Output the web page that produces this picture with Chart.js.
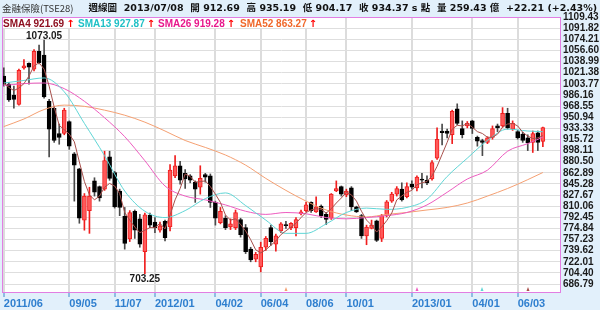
<!DOCTYPE html>
<html>
<head>
<meta charset="utf-8">
<script src="https://cdn.jsdelivr.net/npm/chart.js@4.4.0/dist/chart.umd.min.js"></script>
<style>
  html, body { margin: 0; padding: 0; background: #e2f0fb; }
  #wrap { width: 600px; height: 310px; }
</style>
</head>
<body>
<div id="wrap"><canvas id="chart" width="600" height="310"></canvas></div>
<script>
const BG = "#e2f0fb";
const UP = "#ff5a5a";
const UP_EDGE = "#f01e1e";
const DOWN = "#000000";

// weekly candles, one per week from 2011/06/06 to 2013/07/08
const opens = [1016, 1003, 986, 971, 1029, 1036, 1027, 1055, 1049, 976,
  965, 925, 925, 944, 893, 869, 788, 803, 850, 841,
  837, 888, 863, 834, 794, 758, 802, 790, 738, 796,
  785, 772, 786, 777, 858, 874, 862, 858, 848, 840,
  860, 858, 816, 784, 791, 777, 776, 789, 776, 742,
  726, 714, 745, 776, 750, 771, 781, 776, 776, 798,
  803, 816, 801, 810, 797, 791, 834, 841, 828, 839,
  809, 795, 763, 775, 787, 759, 795, 818, 829, 837,
  825, 845, 839, 853, 851, 853, 886, 929, 929, 923,
  964, 933, 937, 945, 919, 914, 911, 919, 937, 937,
  957, 932, 928, 924, 918, 911, 926, 912.69];
const highs = [1029, 1006, 1000, 1027, 1042, 1037, 1058, 1065, 1073.05, 979,
  967, 940, 965, 945, 895, 870, 830, 840, 855, 842,
  897, 897, 865, 837, 808, 803, 804, 797, 799, 799,
  792, 785, 788, 876, 890, 881, 868, 860, 850, 874,
  862, 861, 818, 808, 795, 790, 804, 791, 781, 745,
  737, 753, 762, 780, 766, 784, 786, 784, 792, 804,
  816, 817, 825, 812, 800, 830, 850, 842, 837, 841,
  810, 797, 780, 788, 788, 797, 819, 832, 841, 847,
  847, 850, 858, 862, 858, 882, 934, 940, 932, 962,
  972, 945, 944, 946, 921, 916, 920, 937, 940, 966,
  965, 945, 930, 927, 923, 929, 929, 935.19];
const lows = [1000, 976, 965, 970, 1027, 1003, 1024, 1035, 981, 888,
  911, 908, 923, 900, 818, 783, 772, 767, 826, 818,
  835, 851, 807, 795, 742, 754, 759, 745, 703.25, 776,
  768, 769, 755, 771, 855, 845, 838, 847, 816, 829,
  848, 808, 780, 782, 773, 773, 773, 761, 735, 722,
  722, 706, 740, 748, 739, 768, 775, 773, 763, 796,
  801, 800, 800, 792, 781, 789, 833, 826, 825, 803,
  800, 759, 749, 774, 754, 754, 793, 816, 826, 818,
  823, 837, 834, 839, 844, 851, 884, 907, 918, 909,
  939, 918, 934, 925, 905, 890, 909, 916, 928, 935,
  932, 930, 916, 911, 898, 895, 898, 904.17];
const closes = [1004, 978, 979, 1025, 1032, 1030, 1055, 1037, 983, 932,
  914, 919, 962, 905, 875, 791, 826, 826, 832, 823,
  882, 854, 809, 808, 751, 800, 772, 750, 796.5, 780,
  776, 779, 760, 867, 874, 851, 853, 851, 837, 854,
  856, 816, 791, 802, 776, 782, 800, 765, 738, 725,
  734, 745, 759, 754, 763, 782, 779, 783, 789, 801,
  812, 803, 809, 795, 789, 829, 838, 829, 834, 809,
  801, 763, 777, 780, 756, 795, 817, 829, 838, 820,
  841, 840, 856, 851, 847, 879, 916, 926.5, 925, 960,
  941, 923, 941, 933, 913, 911, 918, 933, 934, 957,
  934, 941, 918, 914, 910, 925, 911, 934.37];

// moving averages
const sma4 = [1005, 998, 993, 997, 1004, 1016, 1032, 1037, 1027, 1000,
  967, 938, 931, 924, 912, 880, 849, 828, 820, 826,
  840, 846, 842, 830, 800, 788, 777, 768, 772, 776,
  776, 783, 774, 796, 820, 838, 861, 857, 848, 849,
  850, 841, 829, 816, 796, 788, 790, 781, 771, 757,
  741, 736, 741, 748, 755, 765, 771, 777, 783, 792,
  800, 804, 806, 805, 799, 806, 815, 823, 832, 828,
  818, 802, 788, 780, 769, 777, 787, 799, 820, 826,
  832, 835, 844, 847, 849, 858, 873, 892, 911, 932,
  938, 937, 941, 935, 928, 925, 919, 919, 924, 935,
  940, 941, 937, 927, 921, 917, 918, 921.69];
const smaWeeks = [0, 4, 8, 12, 16, 20, 24, 28, 32, 36, 40, 44, 48, 52,
  56, 60, 64, 68, 72, 76, 80, 84, 88, 92, 96, 100, 104, 107];
const sma13 = [1005, 1009, 1013, 991, 941, 890, 834, 802, 792, 803, 822, 831, 811, 788,
  767, 767, 782, 800, 807, 805, 808, 821, 857, 886, 914, 932, 929, 927.87];
const sma26 = [1001, 1004, 1005, 996, 976, 950, 920, 882, 842, 826, 820, 812, 802, 797,
  800, 798, 792, 790, 792, 795, 800, 812, 832, 853, 867, 897, 909, 919.28];
const sma52 = [936, 948, 963, 970, 968, 962, 954, 943, 929, 914, 903, 891, 875, 854,
  835, 818, 804, 796, 793, 797, 800, 804, 808, 815, 826, 838, 852, 863.27];

const smaNames = ["SMA4", "SMA13", "SMA26", "SMA52"];
const smaLast = [921.69, 927.87, 919.28, 863.27];
const smaStart = [104, 95, 82, 56];

const tickWeeks = [0, 13, 22, 30, 42, 51, 60, 68, 81, 93, 102];
const tickLabels = ["2011/06", "09/05", "11/07", "2012/01", "04/02", "06/04",
  "08/06", "10/01", "2013/01", "04/01", "06/03"];
const yTicks = [1109.43, 1091.82, 1074.21, 1056.60, 1038.99, 1021.38, 1003.77,
  986.16, 968.55, 950.94, 933.33, 915.72, 898.11, 880.50, 862.89, 845.28,
  827.67, 810.06, 792.45, 774.84, 757.23, 739.62, 722.01, 704.40, 686.79];

const header = ["金融保險(TSE28)", "週線圖", "2013/07/08", "開 912.69", "高 935.19",
  "低 904.17", "收 934.37 s 點", "量 259.43 億", "+22.21 (+2.43%)"];

const lineColors = ["#a8504c", "#5fd6d6", "#ee5cc0", "#f5a072"];
const textColors = ["#8e1020", "#1fc0c6", "#e8188c", "#f0682a"];

const isUp = closes.map((c, i) => c >= opens[i]);
const bodies = opens.map((o, i) => ({ x: i, y: [o, closes[i]] }));
const wicks = lows.map((l, i) => ({ x: i, y: [l, highs[i]] }));
const pts = (vals) => vals.map((v, k) => ({ x: smaWeeks[k], y: v }));

const overlayPlugin = {
  id: "overlay",
  beforeDraw(chart) {
    const { ctx, chartArea: a } = chart;
    ctx.save();
    ctx.fillStyle = BG;
    ctx.fillRect(0, 0, chart.width, chart.height);
    ctx.fillStyle = "#ffffff";
    ctx.fillRect(a.left, a.top, a.right - a.left, a.bottom - a.top);
    ctx.restore();
  },
  afterDraw(chart) {
    const { ctx, chartArea: a, scales: { x, y } } = chart;
    ctx.save();

    // frame
    ctx.strokeStyle = "#e27ee2";
    ctx.lineWidth = 1;
    ctx.strokeRect(a.left + 0.5, a.top + 0.5, a.right - a.left - 1, a.bottom - a.top - 1);

    // SMA legend row inside plot
    ctx.fillStyle = "#ffffff";
    ctx.fillRect(a.left + 1, a.top + 1, 310, 10);
    ctx.font = "bold 10px 'Liberation Sans', 'DejaVu Sans'";
    ctx.textBaseline = "middle";
    ctx.textAlign = "left";
    const legendX = [3, 78, 158, 240];
    smaNames.forEach((name, k) => {
      const txt = `${name} ${smaLast[k].toFixed(2)}`;
      ctx.fillStyle = textColors[k];
      ctx.fillText(txt, legendX[k], a.top + 7);
      const w = ctx.measureText(txt).width;
      ctx.fillStyle = "#ff0000";
      ctx.font = "bold 10px 'DejaVu Sans'";
      ctx.fillText("↑", legendX[k] + w + 2, a.top + 7);
      ctx.font = "bold 10px 'Liberation Sans', 'DejaVu Sans'";
    });

    // high / low labels
    let hi = 0, lo = 0;
    highs.forEach((h, i) => { if (h > highs[hi]) hi = i; });
    lows.forEach((l, i) => { if (l < lows[lo]) lo = i; });
    ctx.fillStyle = "#1a1a1a";
    ctx.textAlign = "center";
    ctx.textBaseline = "alphabetic";
    ctx.fillText(highs[hi].toFixed(2), x.getPixelForValue(hi), y.getPixelForValue(highs[hi]) - 1);
    ctx.textBaseline = "top";
    ctx.fillText(lows[lo].toFixed(2), x.getPixelForValue(lo), y.getPixelForValue(lows[lo]) + 1);

    // SMA window start markers
    smaStart.forEach((idx, k) => {
      const px = Math.round(x.getPixelForValue(idx));
      ctx.fillStyle = lineColors[k];
      ctx.beginPath();
      ctx.moveTo(px - 1.5, a.bottom - 2);
      ctx.lineTo(px + 1.5, a.bottom - 2);
      ctx.lineTo(px, a.bottom - 6);
      ctx.closePath();
      ctx.fill();
    });

    // header line
    ctx.textBaseline = "middle";
    ctx.textAlign = "left";
    let size = 11.5;
    const fontFor = (s) => `bold ${s}px 'DejaVu Sans', 'Noto Sans CJK TC'`;
    let widths, total;
    const measure = () => {
      ctx.font = fontFor(size);
      widths = header.map((t) => ctx.measureText(t).width);
      total = widths.reduce((s, w) => s + w, 0);
    };
    measure();
    while (total + 8 * 5 > 595 && size > 8) { size -= 0.25; measure(); }
    const gap = (595 - total) / (header.length - 1);
    let hx = 2;
    header.forEach((t, k) => {
      ctx.fillStyle = k === 0 ? "#333333" : "#111111";
      ctx.font = k === 0 ? `${size}px 'Noto Sans CJK TC'` : fontFor(size);
      ctx.fillText(t, hx, 8.5);
      hx += widths[k] + gap;
    });

    ctx.restore();
  },
};

new Chart(document.getElementById("chart"), {
  type: "bar",
  data: {
    datasets: [
      ...[sma4.map((v, i) => ({ x: i, y: v })), pts(sma13), pts(sma26), pts(sma52)].map((d, k) => ({
        type: "line",
        label: smaNames[k],
        data: d,
        borderColor: lineColors[k],
        borderWidth: 1,
        pointRadius: 0,
        cubicInterpolationMode: k === 0 ? "default" : "monotone",
        tension: k === 0 ? 0 : 0.4,
        order: 0,
      })),
      {
        label: "body",
        data: bodies,
        grouped: false,
        barThickness: 4,
        minBarLength: 1,
        borderSkipped: false,
        borderWidth: 1,
        backgroundColor: isUp.map((u) => (u ? UP : DOWN)),
        borderColor: isUp.map((u) => (u ? UP_EDGE : DOWN)),
        order: 1,
      },
      {
        label: "wick",
        data: wicks,
        grouped: false,
        barThickness: 1,
        borderWidth: 0,
        backgroundColor: isUp.map((u) => (u ? UP_EDGE : "#4a4a4a")),
        order: 2,
      },
    ],
  },
  options: {
    responsive: false,
    animation: false,
    devicePixelRatio: 1,
    layout: { padding: { left: 2, top: 17, right: 0, bottom: 0 } },
    plugins: { legend: { display: false }, tooltip: { enabled: false } },
    scales: {
      x: {
        type: "linear",
        offset: false,
        min: -0.357,
        max: 110.6,
        border: { display: false },
        grid: { offset: false, color: "#dcdcdc", lineWidth: 2, tickColor: "#3d88cc", tickWidth: 1, tickLength: 4 },
        afterBuildTicks: (s) => { s.ticks = tickWeeks.map((v) => ({ value: v })); },
        afterFit: (s) => { s.height = 17; },
        ticks: {
          autoSkip: false,
          maxRotation: 0,
          minRotation: 0,
          align: "start",
          padding: 0,
          color: "#2f7fcf",
          font: { family: "'Liberation Sans'", size: 11, weight: "bold" },
          callback: (v) => tickLabels[tickWeeks.indexOf(v)],
        },
      },
      y: {
        position: "right",
        min: 672.6,
        max: 1109.43,
        border: { display: false },
        grid: { color: "#dedede", lineWidth: 1, drawTicks: false },
        afterBuildTicks: (s) => { s.ticks = yTicks.map((v) => ({ value: v })); },
        afterFit: (s) => { s.width = 39; },
        ticks: {
          autoSkip: false,
          padding: 2,
          color: "#1a1a1a",
          font: { family: "'Liberation Sans'", size: 10, weight: "bold" },
          callback: (v) => v.toFixed(2),
        },
      },
    },
  },
  plugins: [overlayPlugin],
});
</script>
</body>
</html>
